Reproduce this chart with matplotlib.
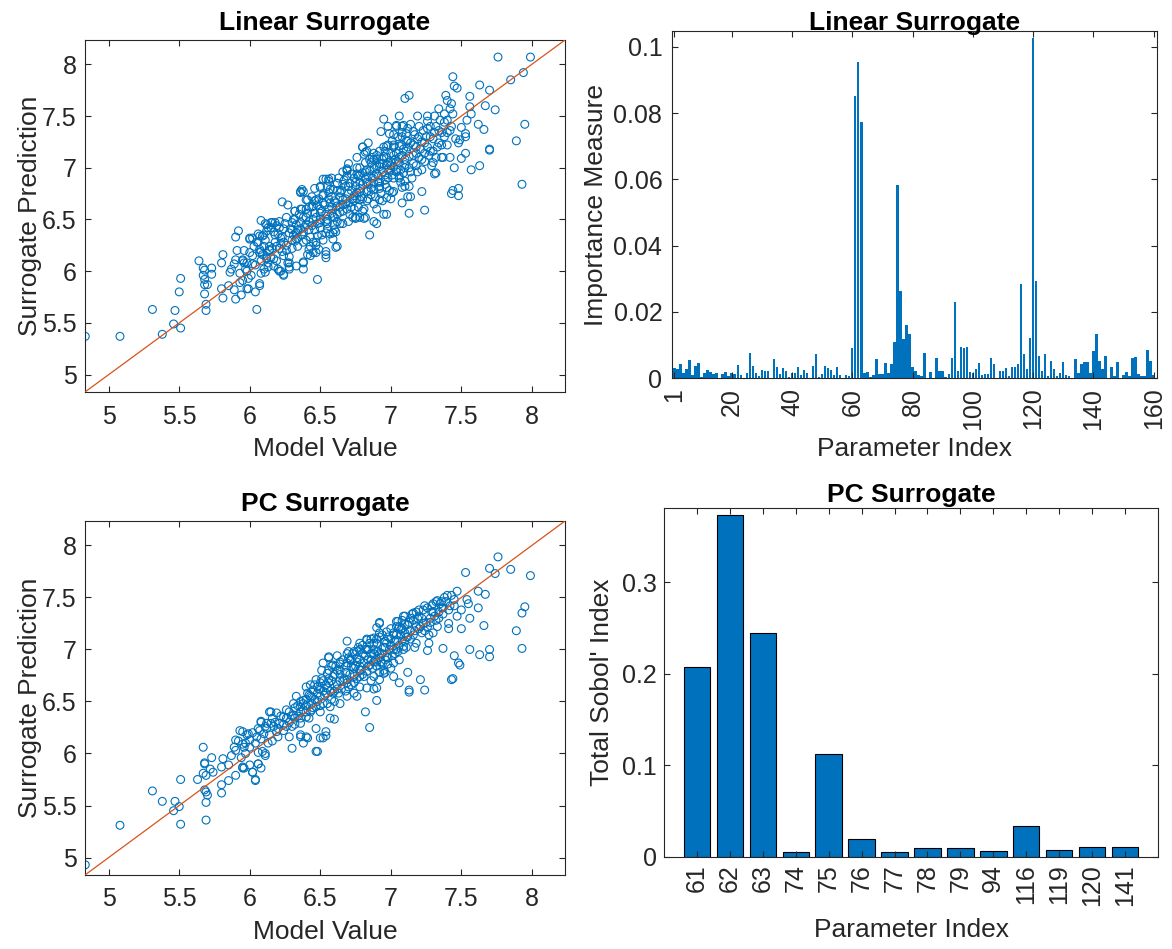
import matplotlib
matplotlib.use("Agg")
import matplotlib.pyplot as plt
import numpy as np

plt.rcParams['font.family'] = ['Liberation Sans', 'DejaVu Sans']

# ---------------- data ----------------
lin_points = [
    (4.834,5.37),(5.08,5.37),(5.38,5.39),(5.31,5.63),(5.47,5.62),(5.46,5.49),(5.51,5.45),(5.50,5.80),(5.51,5.93),(5.64,6.10),
    (5.69,5.62),(5.69,5.68),(5.68,5.78),(5.68,5.87),(5.70,5.87),(5.67,6.03),(5.68,6.01),(5.67,5.96),(5.68,5.92),(5.73,6.03),
    (5.73,5.97),(5.81,6.16),(5.80,6.08),(5.80,5.83),(5.81,5.74),(5.85,5.86),(5.90,5.73),(5.89,5.82),(5.86,5.99),(5.87,6.02),
    (5.89,6.07),(5.90,6.11),(5.91,6.20),(5.90,6.33),(5.92,6.39),(5.96,6.20),(5.95,6.11),(5.96,6.08),(5.93,5.98),(5.95,5.91),
    (5.94,5.77),(5.99,5.93),(5.99,5.83),(6.04,5.80),(6.05,5.63),(6.07,5.86),(6.00,6.31),(6.02,6.07),(6.08,6.49),(6.06,6.28),
    (6.07,6.21),(6.08,6.19),(6.08,6.10),(6.08,5.98),(6.09,6.34),(6.11,6.46),(6.12,6.39),(6.14,6.24),(6.12,6.12),(6.13,6.08),
    (6.13,6.04),(6.16,6.47),(6.18,6.47),(6.15,6.42),(6.17,6.38),(6.21,6.42),(6.23,6.67),(6.27,6.64),(6.23,6.33),(6.21,6.22),
    (6.23,6.19),(6.20,6.02),(6.22,6.00),(6.24,5.96),(6.17,6.12),(6.15,6.13),(6.27,6.08),(6.28,6.04),(6.30,6.47),(6.32,6.58),
    (6.36,6.76),(6.38,6.77),(6.41,6.69),(6.32,6.29),(6.36,6.41),(6.33,6.37),(6.38,6.02),(6.38,6.09),(6.41,6.16),(6.45,6.28),
    (6.48,5.92),(6.54,6.16),(6.54,6.13),(6.54,6.19),(6.61,6.23),(6.59,6.31),(6.54,6.37),(6.51,6.35),(6.47,6.25),(6.42,6.21),
    (6.49,6.21),(6.45,6.18),(6.50,6.82),(6.54,6.89),(6.56,6.87),(6.52,6.74),(6.62,6.85),(6.57,6.79),(6.69,6.99),(6.69,6.97),
    (6.76,7.00),(6.80,7.20),(6.82,7.15),(6.85,6.35),(6.88,6.48),(6.90,6.46),(6.81,6.51),(6.75,6.51),(6.73,6.52),(6.66,6.46),
    (6.61,6.38),(6.93,7.35),(6.95,7.47),(6.95,6.55),(6.97,6.55),(7.01,6.76),(7.02,7.32),(7.10,7.67),(7.13,7.70),(7.04,7.41),
    (7.08,7.40),(7.10,6.82),(7.12,6.72),(7.14,6.72),(7.13,6.56),(7.22,6.77),(7.24,6.59),(7.19,6.96),(7.19,7.50),(7.26,7.50),
    (7.31,7.50),(7.34,7.57),(7.31,6.94),(7.32,6.95),(7.30,7.05),(7.37,7.10),(7.42,7.10),(7.39,7.70),(7.40,7.65),(7.44,7.88),
    (7.45,7.79),(7.47,7.77),(7.43,7.62),(7.42,7.57),(7.43,7.40),(7.40,7.34),(7.45,7.00),(7.50,7.09),(7.50,7.39),(7.48,7.24),
    (7.49,7.27),(7.53,7.14),(7.53,7.30),(7.53,7.33),(7.54,7.46),(7.56,7.59),(7.57,7.52),(7.56,7.69),(7.63,7.80),(7.62,7.42),
    (7.66,7.37),(7.67,7.60),(7.70,7.75),(7.74,7.56),(7.70,7.18),(7.70,7.17),(7.63,7.02),(7.57,6.98),(7.43,6.75),(7.44,6.78),
    (7.48,6.80),(7.48,6.73),(7.76,8.07),(7.85,7.85),(7.94,7.92),(7.99,8.07),(7.95,7.42),(7.89,7.26),(7.93,6.84),
    (6.99,7.33),(7.04,7.40),(7.09,7.41),(7.11,7.33),(7.08,7.30),(7.11,7.26),(7.06,7.21),(7.02,7.22),(6.97,7.21),(6.92,7.16),
    (6.88,7.14),(6.83,7.16),(6.80,7.20),(6.81,7.13),(6.85,7.08),(6.90,7.08),(6.95,7.11),(7.00,7.14),(7.04,7.14),(7.09,7.18),
    (7.13,7.11),(7.10,7.03),(7.07,6.98),(7.02,7.01),(6.97,7.03),(6.92,7.01),(6.88,7.00),(6.83,6.98),(6.78,7.00),(6.77,6.92),
    (6.82,6.89),(6.87,6.90),(6.91,6.92),(6.96,6.93),(7.01,6.93),(7.06,6.90),(7.10,6.87),(7.13,6.82),(7.08,6.81),(7.02,6.77),
    (6.97,6.81),(6.92,6.82),(6.88,6.79),(6.83,6.77),(6.78,6.77),(6.75,6.82),(6.71,6.85),(6.69,6.98),(6.69,6.92),(6.74,6.73),
    (6.78,6.69),(6.83,6.68),(6.88,6.65),(6.92,6.69),(6.97,6.71),(6.78,6.52),(6.75,6.52),(6.82,6.52),(6.69,6.60),(6.64,6.57),
    (6.62,6.63),(6.66,6.69),(6.64,6.76),(6.59,6.79),(6.55,6.82),(6.56,6.89),(6.62,6.85),(6.52,6.89),(6.50,6.81),(6.47,6.69),
    (6.52,6.73),(6.57,6.66),(6.59,6.53),(6.55,6.50),(6.50,6.60),(6.45,6.63),(6.40,6.69),(6.36,6.77),(6.37,6.79),(6.40,6.60),
    (6.37,6.60),(6.32,6.58),(6.31,6.50),(6.36,6.47),(6.40,6.45),(6.45,6.50),(6.50,6.47),(6.55,6.41),(6.59,6.37),(6.62,6.24),
    (6.47,6.28),(6.43,6.24),(6.38,6.28),(6.33,6.31),(6.28,6.37),(6.24,6.41),(6.19,6.44),(6.15,6.47),(6.12,6.45),(6.07,6.34),
    (6.02,6.32),(6.00,6.32),(6.05,6.28),(6.10,6.24),(6.14,6.21),(6.19,6.24),(6.24,6.15),(6.28,6.08),(6.33,6.05),(6.38,6.08),
    (6.43,6.15),(6.47,6.18),(6.28,6.02),(6.21,6.00),(6.24,5.97),(6.17,6.05),(6.12,6.13),(6.07,6.18),(6.02,6.15),(5.98,6.08),
    (5.95,6.10),(5.97,6.02),(5.93,5.89),(5.98,5.83),(6.07,5.88),(6.11,5.99),
    (6.62,6.78),(6.66,6.84),(6.70,6.75),(6.74,6.90),(6.78,6.86),(6.80,6.95),(6.84,6.92),(6.86,7.05),(6.90,7.02),(6.94,7.08),
    (6.98,7.05),(7.00,6.98),(7.04,7.06),(6.88,6.85),(6.92,6.80),(6.76,6.70),(6.72,6.62),(6.68,6.70),(6.58,6.62),(6.54,6.55),
    (6.50,6.50),(6.46,6.56),(6.42,6.40),(6.38,6.52),(6.34,6.40),(6.30,6.30),(6.26,6.25),(6.22,6.32),(6.18,6.28),(6.14,6.20),
    (6.10,6.35),(6.56,6.70),(6.60,6.52),(6.64,6.46),(6.48,6.64),(6.44,6.72),(6.84,6.78),(6.96,6.88),(7.06,6.92),(7.10,7.00),
    (7.16,7.04),(7.20,7.10),(7.24,7.14),(7.18,7.20),(7.22,7.25),(7.26,7.20),(7.28,7.30),(7.30,7.16),(7.34,7.24),(7.36,7.34),
    (7.32,7.40),(7.38,7.44),(7.40,7.22),(7.12,7.26),(7.08,7.12),(7.02,7.20),(6.98,7.22),(7.16,7.35),(7.20,7.40),(7.26,7.45),
    (7.14,7.42),
    (6.20,6.36),(6.22,6.27),(6.25,6.46),(6.26,6.20),(6.29,6.41),(6.30,6.22),(6.31,6.35),(6.33,6.45),(6.34,6.24),(6.35,6.55),
    (6.37,6.35),(6.39,6.43),(6.40,6.30),(6.41,6.56),(6.42,6.48),(6.43,6.33),(6.44,6.62),(6.46,6.40),(6.47,6.52),(6.48,6.34),
    (6.49,6.70),(6.50,6.42),(6.51,6.58),(6.52,6.30),(6.53,6.64),(6.55,6.46),(6.56,6.60),(6.57,6.36),(6.58,6.72),(6.60,6.45),
    (6.61,6.66),(6.62,6.55),(6.63,6.90),(6.64,6.62),(6.65,6.78),(6.66,6.58),(6.67,6.88),(6.68,6.65),(6.70,6.82),(6.71,6.55),
    (6.72,6.94),(6.73,6.70),(6.74,6.60),(6.75,6.86),(6.76,6.76),(6.77,6.62),(6.78,6.93),(6.79,6.72),(6.80,6.84),(6.81,6.60),
    (6.82,7.05),(6.83,6.86),(6.84,6.70),(6.85,6.97),(6.86,6.80),(6.87,7.10),(6.88,6.92),(6.89,6.72),(6.90,7.12),(6.91,6.86),
    (6.92,7.04),(6.93,6.75),(6.94,6.96),(6.95,7.20),(6.96,6.84),(6.97,7.10),(6.98,6.98),(6.99,6.78),(7.00,7.06),(7.01,7.26),
    (7.02,6.90),(7.03,7.08),(7.04,6.96),(7.05,7.30),(7.06,7.05),(7.07,6.86),(7.08,7.22),(7.09,6.95),(7.11,7.16),(7.12,7.38),
    (7.13,7.00),(7.14,7.24),(7.15,6.90),(7.16,7.12),(7.17,7.32),(7.18,7.02),(7.19,7.28),(7.21,7.18),(7.22,6.98),(7.23,7.36),
    (7.24,7.06),(7.25,7.30),(7.27,7.12),(7.28,7.40),(7.29,7.02),(7.31,7.34),(7.33,7.20),(7.35,7.46),(7.36,7.10),(7.38,7.30),
    (7.40,7.46),(7.42,7.36),(7.44,7.52),(7.46,7.28),
    (5.98,6.00),(6.00,6.18),(6.01,5.96),(6.03,6.24),(6.04,6.06),(6.06,6.36),(6.09,6.16),(6.10,6.02),(6.11,6.30),(6.13,6.42),
    (6.16,6.22),(6.18,6.35),(6.19,6.10),(6.21,6.48),(6.24,6.28),(6.26,6.52),(6.28,6.14),
    (6.30,6.40),(6.32,6.50),(6.34,6.32),(6.36,6.60),(6.38,6.38),(6.40,6.52),(6.42,6.62),(6.44,6.44),(6.46,6.68),(6.48,6.46),
    (6.50,6.56),(6.52,6.66),(6.54,6.48),(6.56,6.76),(6.58,6.56),(6.60,6.68),(6.62,6.48),(6.64,6.72),(6.66,6.64),(6.68,6.82),
    (6.70,6.66),(6.72,6.78),(6.74,6.68),(6.76,6.94),(6.78,6.80),(6.80,6.70),(6.82,6.96),(6.84,6.84),(6.86,6.74),(6.88,7.08),
    (6.90,6.94),(6.92,6.86),(6.94,7.04),(6.96,7.16),(6.98,6.90),(7.00,7.02),(7.02,7.12),(7.04,6.98),(7.06,7.10),(7.08,7.34),
    (7.10,7.08),(7.12,7.20),(7.14,6.96),(7.16,7.22),(7.18,7.14),(7.20,7.30),(7.22,7.08),(7.24,7.24),(7.26,7.38),(7.28,7.16),
    (7.30,7.28),(7.32,7.10),(7.34,7.36),(7.36,7.22),(7.38,7.52),(6.66,6.96),(6.70,7.04),(6.58,6.90),(6.46,6.80),(6.84,7.24),
    (6.76,7.10),(6.98,7.40),(7.06,7.50),(6.90,6.60),(7.00,6.70),(7.08,6.66),(6.94,6.68),(6.80,6.58),(6.70,6.48),(6.60,6.40),
]

pc_points = [
    (4.834,4.93),(5.08,5.31),(5.31,5.64),(5.38,5.54),(5.47,5.54),(5.46,5.45),(5.50,5.49),(5.51,5.32),(5.51,5.75),(5.63,5.75),
    (5.67,6.06),(5.68,5.91),(5.68,5.90),(5.67,5.81),(5.69,5.79),(5.68,5.65),(5.69,5.63),(5.70,5.60),(5.69,5.53),(5.69,5.36),
    (5.73,5.96),(5.72,5.85),(5.74,5.82),(5.80,5.70),(5.80,5.62),(5.81,5.95),(5.80,5.87),(5.85,5.89),(5.85,5.74),(5.90,5.79),
    (5.95,5.86),(5.96,5.86),(5.87,5.98),(5.89,6.06),(5.90,6.13),(5.93,6.22),(5.90,6.03),(5.95,6.09),(5.99,6.19),(5.96,6.06),
    (6.00,5.89),(6.02,5.82),(6.04,5.75),(6.06,5.90),(6.08,5.86),(6.06,6.01),(6.08,6.30),(6.07,6.22),(6.11,5.98),(6.15,6.40),
    (6.15,6.29),(6.30,6.05),(6.38,6.10),(6.48,6.02),(6.54,6.21),(6.54,6.17),(6.52,6.15),(6.60,6.33),(6.41,6.15),(6.36,6.18),
    (6.43,6.66),(6.56,6.93),(6.69,7.08),(6.83,7.10),(6.82,6.40),(6.85,6.25),(6.90,6.51),(6.88,6.62),(6.90,7.21),(6.92,7.26),
    (7.06,6.68),(7.12,6.78),(7.13,6.61),(7.13,6.59),(7.21,6.71),(7.24,6.61),(7.37,7.01),(7.26,6.99),(7.17,7.02),(7.45,6.94),
    (7.48,6.87),(7.49,6.85),(7.43,6.71),(7.44,6.72),(7.56,7.00),(7.63,6.95),(7.70,7.00),(7.70,6.93),(7.66,7.23),(7.62,7.40),
    (7.56,7.30),(7.50,7.20),(7.41,7.20),(7.53,7.74),(7.62,7.56),(7.67,7.53),(7.70,7.78),(7.74,7.73),(7.76,7.89),(7.85,7.77),
    (7.99,7.71),(7.95,7.41),(7.93,7.35),(7.89,7.18),(7.93,7.01),(7.33,7.47),(7.40,7.52),(7.45,7.48),(7.54,7.48),(7.55,7.44),
    (7.50,7.38),(7.41,7.25),(7.30,7.16),(7.27,7.06),(7.23,7.25),(7.16,7.35),(7.20,7.38),(7.09,7.32),(7.05,7.27),(7.29,7.36),
    (7.37,7.40),(7.47,7.32),(7.09,7.03),(7.02,6.87),(6.95,6.80),(6.92,6.71),
    (6.92,7.25),(7.04,7.27),(7.10,7.32),(7.07,7.19),(7.02,7.16),(6.97,7.17),(6.92,7.12),(6.88,7.11),(6.83,7.09),(6.90,7.06),
    (6.97,7.06),(7.04,7.09),(7.11,7.12),(7.09,7.00),(7.03,6.96),(6.97,6.93),(6.92,6.92),(6.88,6.96),(6.83,7.00),(6.78,7.00),
    (6.74,6.98),(6.69,6.96),(6.71,6.90),(6.76,6.88),(6.81,6.87),(6.85,6.85),(6.90,6.84),(6.95,6.77),(6.88,6.74),(6.83,6.79),
    (6.78,6.80),(6.74,6.82),(6.69,6.87),(6.64,6.88),(6.59,6.85),(6.56,6.92),(6.52,6.87),(6.51,6.80),(6.55,6.77),(6.59,6.74),
    (6.64,6.76),(6.69,6.71),(6.74,6.68),(6.78,6.64),(6.83,6.63),(6.76,6.55),(6.69,6.55),(6.64,6.48),(6.59,6.58),(6.55,6.63),
    (6.50,6.68),(6.47,6.71),(6.45,6.61),(6.40,6.64),(6.43,6.55),(6.50,6.55),(6.52,6.48),(6.47,6.45),(6.57,6.45),(6.43,6.40),
    (6.38,6.51),(6.33,6.55),(6.31,6.48),(6.36,6.45),(6.40,6.35),(6.36,6.29),(6.31,6.37),(6.26,6.42),(6.24,6.35),(6.19,6.39),
    (6.14,6.40),(6.21,6.29),(6.17,6.26),(6.12,6.29),(6.08,6.31),(6.10,6.19),(6.05,6.16),(6.00,6.13),(5.97,6.10),(5.95,6.21),
    (5.98,6.18),(6.14,6.18),(6.19,6.21),(6.26,6.26),(6.28,6.16),(6.36,6.16),(6.40,6.16),(6.47,6.24),(6.50,6.15),(6.11,6.00),
    (6.06,5.90),(6.02,5.82),(6.04,5.74),(5.95,5.87),(6.47,6.02),(6.57,6.34),(6.69,6.68),(6.90,6.63),(7.02,6.74),
    (6.60,6.60),(6.64,6.70),(6.68,6.78),(6.72,6.84),(6.76,6.92),(6.80,6.96),(6.84,7.00),(6.88,7.06),(6.92,6.96),(6.96,7.02),
    (7.00,7.10),(7.04,7.14),(7.08,7.20),(6.62,6.80),(6.56,6.72),(6.52,6.60),(6.48,6.58),(6.44,6.48),(6.40,6.52),(6.36,6.40),
    (6.32,6.34),(6.28,6.30),(6.24,6.22),(6.20,6.16),(6.16,6.12),(6.12,6.24),(6.74,6.76),(6.78,6.74),(6.86,6.90),(6.90,6.88),
    (6.94,6.86),(6.98,6.92),(7.02,7.00),(7.06,7.04),(7.10,7.08),(7.14,7.18),(7.18,7.22),(7.22,7.16),(7.26,7.22),(7.28,7.30),
    (7.32,7.28),(7.34,7.36),(7.12,7.24),(7.16,7.28),(7.20,7.32),(7.24,7.42),(7.30,7.44),(7.36,7.46),(7.38,7.50),(7.42,7.42),
    (6.18,6.30),(6.20,6.24),(6.22,6.36),(6.24,6.28),(6.26,6.34),(6.28,6.40),(6.30,6.26),(6.32,6.44),(6.34,6.36),(6.36,6.50),
    (6.38,6.42),(6.40,6.46),(6.41,6.58),(6.42,6.34),(6.44,6.54),(6.45,6.44),(6.46,6.66),(6.48,6.50),(6.49,6.62),(6.50,6.40),
    (6.51,6.72),(6.53,6.56),(6.54,6.66),(6.55,6.48),(6.56,6.80),(6.57,6.60),(6.58,6.70),(6.60,6.50),(6.61,6.84),(6.62,6.66),
    (6.63,6.58),(6.64,6.80),(6.65,6.62),(6.66,6.90),(6.67,6.72),(6.68,6.60),(6.70,6.92),(6.71,6.76),(6.72,6.66),(6.73,6.96),
    (6.75,6.84),(6.76,6.72),(6.77,7.02),(6.78,6.90),(6.79,6.80),(6.80,7.04),(6.81,6.74),(6.82,6.94),(6.84,6.84),(6.85,7.06),
    (6.86,6.96),(6.87,6.82),(6.88,7.00),(6.89,6.90),(6.90,7.10),(6.91,6.98),(6.93,6.88),(6.94,7.14),(6.95,7.02),(6.96,6.90),
    (6.98,7.12),(6.99,7.00),(7.00,7.20),(7.01,6.94),(7.03,7.08),(7.04,7.22),(7.05,6.98),(7.07,7.14),(7.08,7.28),(7.10,7.16),
    (7.11,7.02),(7.13,7.26),(7.14,7.10),(7.15,7.34),(7.17,7.18),(7.18,7.06),(7.19,7.30),(7.21,7.22),(7.23,7.38),(7.25,7.26),
    (7.27,7.14),(7.29,7.42),(7.31,7.32),(7.33,7.22),(7.35,7.44),(7.37,7.34),(7.39,7.46),(7.41,7.38),(7.43,7.52),(7.45,7.42),
    (7.47,7.56),
    (5.97,6.00),(6.00,6.06),(6.02,6.20),(6.04,6.10),(6.06,6.24),(6.08,6.14),(6.09,6.02),(6.11,6.26),(6.13,6.10),(6.16,6.34),
    (5.94,5.96),(5.92,6.12),
    (6.30,6.36),(6.32,6.28),(6.34,6.46),(6.36,6.34),(6.38,6.48),(6.40,6.40),(6.42,6.56),(6.44,6.42),(6.46,6.52),(6.48,6.64),
    (6.50,6.46),(6.52,6.70),(6.54,6.58),(6.56,6.68),(6.58,6.52),(6.60,6.76),(6.62,6.62),(6.64,6.86),(6.66,6.70),(6.68,6.84),
    (6.70,6.64),(6.72,6.90),(6.74,6.74),(6.76,6.98),(6.78,6.84),(6.80,6.76),(6.82,7.00),(6.84,6.90),(6.86,7.10),(6.88,6.88),
    (6.90,6.98),(6.92,7.16),(6.94,6.96),(6.96,7.08),(6.98,6.86),(7.00,7.04),(7.02,7.14),(7.04,7.00),(7.06,7.22),(7.08,7.08),
    (7.10,7.24),(7.12,7.12),(7.14,7.30),(7.16,7.14),(7.18,7.36),(7.20,7.20),(7.22,7.30),(7.24,7.18),(7.26,7.40),(7.28,7.26),
    (7.30,7.36),(7.32,7.46),(7.34,7.30),(7.36,7.40),(6.62,6.94),(6.70,6.98),(6.78,7.06),(6.58,6.84),(6.74,6.58),(6.86,6.70),
    (6.96,6.78),(7.06,6.90),(7.00,6.82),(6.92,6.78),
]

# Linear surrogate importance measure, parameters 1..160
importance = [
    0.0031,0.0027,0.0043,0.0016,0.0027,0.0053,0.0008,0.0037,0.0046,0.0004,
    0.0016,0.0025,0.0017,0.0013,0.0016,0.0001,0.0013,0.0018,0.0007,0.0014,
    0.0013,0.0040,0.0009,0.0001,0.0014,0.0077,0.0035,0.0016,0.0007,0.0023,
    0.0022,0.0022,0.0001,0.0057,0.0034,0.0013,0.0031,0.0021,0.0004,0.0014,
    0.0014,0.0033,0.0009,0.0025,0.0014,0.0001,0.0035,0.0071,0.0004,0.0012,
    0.0036,0.0031,0.0024,0.0009,0.0033,0.0008,0.0001,0.0010,0.0006,0.0090,
    0.0852,0.0954,0.0773,0.0016,0.0018,0.0003,0.0009,0.0056,0.0013,0.0012,
    0.0046,0.0014,0.0042,0.0109,0.0584,0.0262,0.0117,0.0159,0.0134,0.0034,
    0.0022,0.0009,0.0005,0.0076,0.0001,0.0018,0.0001,0.0061,0.0021,0.0021,
    0.0004,0.0012,0.0059,0.0230,0.0020,0.0093,0.0090,0.0093,0.0017,0.0015,
    0.0027,0.0045,0.0010,0.0012,0.0012,0.0059,0.0042,0.0001,0.0022,0.0022,
    0.0030,0.0007,0.0033,0.0033,0.0042,0.0285,0.0071,0.0026,0.0121,0.1028,
    0.0292,0.0067,0.0022,0.0071,0.0007,0.0052,0.0026,0.0007,0.0016,0.0049,
    0.0009,0.0005,0.0001,0.0058,0.0015,0.0043,0.0049,0.0047,0.0015,0.0083,
    0.0134,0.0052,0.0027,0.0065,0.0001,0.0032,0.0005,0.0049,0.0001,0.0010,
    0.0019,0.0005,0.0059,0.0064,0.0011,0.0006,0.0006,0.0086,0.0052,0.0010,
]
param_index = list(range(1, 161))
importance_ticks = [1, 20, 40, 60, 80, 100, 120, 140, 160]

sobol_params = ['61', '62', '63', '74', '75', '76', '77', '78', '79', '94', '116', '119', '120', '141']
sobol_values = [0.2069, 0.3736, 0.2446, 0.0051, 0.1120, 0.0196, 0.0054, 0.0098, 0.0101, 0.0062, 0.0337, 0.0076, 0.0109, 0.0109]

scatter_ticks = [5, 5.5, 6, 6.5, 7, 7.5, 8]
scatter_lim = (4.832, 8.235)

# ---------------- styling ----------------
BLUE = '#0072BD'
ORANGE = '#D95319'
AX = '#262626'
FS_TICK = 18
FS_LAB = 19

W, H = 1172, 949
fig = plt.figure(figsize=(W / 100, H / 100), dpi=100)


def rect(l, t, r, b):
    return [l / W, 1 - b / H, (r - l) / W, (b - t) / H]


def style(ax, xpad=9, ypad=5):
    for s in ax.spines.values():
        s.set_color(AX)
        s.set_linewidth(0.8)
    ax.tick_params(direction='in', length=4, width=0.8, colors=AX, labelsize=FS_TICK,
                   top=True, right=True, labelcolor=AX)
    ax.tick_params(axis='x', pad=xpad)
    ax.tick_params(axis='y', pad=ypad)


def fmt(v):
    return ('%g' % v)


def scatter_panel(ax, pts, title):
    xs = [p[0] for p in pts]
    ys = [p[1] for p in pts]
    ax.scatter(xs, ys, s=32, facecolors='none', edgecolors=BLUE, linewidths=0.8, zorder=2)
    ax.plot(scatter_lim, scatter_lim, color=ORANGE, lw=0.9, zorder=3)
    ax.set_xlim(scatter_lim)
    ax.set_ylim(scatter_lim)
    ax.set_xticks(scatter_ticks)
    ax.set_yticks(scatter_ticks)
    ax.set_xticklabels([fmt(t) for t in scatter_ticks])
    ax.set_yticklabels([fmt(t) for t in scatter_ticks])
    ax.set_xlabel('Model Value', fontsize=FS_LAB, color=AX, labelpad=6)
    ax.set_ylabel('Surrogate Prediction', fontsize=FS_LAB, color=AX, labelpad=0)
    ax.set_title(title, fontsize=FS_LAB, fontweight='bold', pad=7)
    style(ax, xpad=9, ypad=6)


ax1 = fig.add_axes(rect(85, 40, 565, 392))
scatter_panel(ax1, lin_points, 'Linear Surrogate')

ax3 = fig.add_axes(rect(85, 521, 565, 875))
scatter_panel(ax3, pc_points, 'PC Surrogate')

# top-right importance bars
ax2 = fig.add_axes(rect(672, 31, 1157, 378))
ax2.bar(param_index, importance, width=0.8, color=BLUE, edgecolor='none')
ax2.set_xlim(0.2, 161.1)
ax2.set_ylim(0, 0.1048)
ax2.set_xticks(importance_ticks)
ax2.set_xticklabels([str(t) for t in importance_ticks], rotation=90)
yt = [0, 0.02, 0.04, 0.06, 0.08, 0.1]
ax2.set_yticks(yt)
ax2.set_yticklabels([fmt(t) for t in yt])
ax2.set_xlabel('Parameter Index', fontsize=FS_LAB, color=AX, labelpad=5)
ax2.set_ylabel('Importance Measure', fontsize=FS_LAB, color=AX, labelpad=4)
ax2.set_title('Linear Surrogate', fontsize=FS_LAB, fontweight='bold', pad=1)
style(ax2, xpad=7, ypad=7)

# bottom-right Sobol bars
ax4 = fig.add_axes(rect(664, 508, 1158, 857))
pos = np.arange(1, len(sobol_params) + 1)
ax4.bar(pos, sobol_values, width=0.8, color=BLUE, edgecolor='black', linewidth=0.8)
ax4.set_xlim(0.0, len(sobol_params) + 1.0)
ax4.set_ylim(0, 0.381)
ax4.set_xticks(pos)
ax4.set_xticklabels(sobol_params, rotation=90)
yt4 = [0, 0.1, 0.2, 0.3]
ax4.set_yticks(yt4)
ax4.set_yticklabels([fmt(t) for t in yt4])
ax4.set_xlabel('Parameter Index', fontsize=FS_LAB, color=AX, labelpad=9)
ax4.set_ylabel("Total Sobol' Index", fontsize=FS_LAB, color=AX, labelpad=6)
ax4.set_title('PC Surrogate', fontsize=FS_LAB, fontweight='bold', pad=4)
style(ax4, xpad=5, ypad=5)

fig.savefig('out.png', dpi=100)
